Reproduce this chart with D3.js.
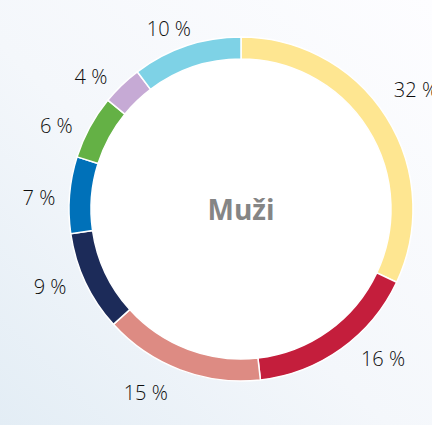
<!DOCTYPE html>
<html>
<head>
<meta charset="utf-8">
<script src="https://cdn.jsdelivr.net/npm/d3@7"></script>
<style>
  html, body { margin: 0; padding: 0; background: #fff; }
  svg { display: block; }
</style>
</head>
<body>
<div id="chart"></div>
<script>
// shares (labels show them rounded)
const categories = ['a', 'b', 'c', 'd', 'e', 'f', 'g', 'h'];
const shares = [32, 16.2, 15.1, 9.4, 7.2, 6.0, 3.8, 10.3];
const colors = ['#fee691', '#c41e3c', '#dd8b83', '#1c2b59', '#0071b9', '#64b145', '#c6aad5', '#7ed2e6'];
const centerLabel = 'Muži';

// small hand nudges for the labels, like the original layout (degrees, px)
const labelTurn = [-5.6, -3, 1, 1.3, -1.2, -2, -1.4, 3];
const labelPush = [4, 2, 8, 1, -4, -2, -2, -3];

const width = 432, height = 425;
const cx = 241, cy = 209;
const outerR = 172, innerR = 150, labelR = 190;

const svg = d3.select('#chart')
    .append('svg')
    .attr('width', width)
    .attr('height', height);

// soft bluish backdrop
const defs = svg.append('defs');
const grad = defs.append('linearGradient')
    .attr('id', 'bg')
    .attr('x1', '1').attr('y1', '0')
    .attr('x2', '0').attr('y2', '1');
grad.append('stop').attr('offset', '0%').attr('stop-color', '#fdfdff');
grad.append('stop').attr('offset', '55%').attr('stop-color', '#f4f7fb');
grad.append('stop').attr('offset', '100%').attr('stop-color', '#e3edf5');

svg.append('rect')
    .attr('width', width)
    .attr('height', height)
    .attr('fill', 'url(#bg)');

const g = svg.append('g')
    .attr('transform', `translate(${cx},${cy})`);

g.append('circle')
    .attr('r', innerR)
    .attr('fill', '#ffffff');

const pie = d3.pie().sort(null).value(d => d.value);
const arcs = pie(categories.map((c, i) => ({key: c, value: shares[i], color: colors[i]})));

const arc = d3.arc().innerRadius(innerR).outerRadius(outerR);

g.selectAll('path.slice')
    .data(arcs)
    .enter()
    .append('path')
    .attr('class', 'slice')
    .attr('d', arc)
    .attr('fill', d => d.data.color)
    .attr('stroke', '#ffffff')
    .attr('stroke-width', 1.5);

g.selectAll('text.pct')
    .data(arcs)
    .enter()
    .append('text')
    .attr('class', 'pct')
    .each(function (d, i) {
        const a = (d.startAngle + d.endAngle) / 2 + labelTurn[i] * Math.PI / 180;
        const r = labelR + labelPush[i];
        d3.select(this)
            .attr('x', r * Math.sin(a))
            .attr('y', -r * Math.cos(a))
            .attr('text-anchor', a < Math.PI ? 'start' : 'end');
    })
    .attr('dominant-baseline', 'central')
    .attr('font-family', '"Open Sans", "DejaVu Sans", sans-serif')
    .attr('font-weight', 300)
    .attr('font-size', '20px')
    .attr('fill', '#0d0d0d')
    .text(d => `${Math.round(d.data.value)} %`);

g.append('text')
    .attr('x', 0)
    .attr('y', 11)
    .attr('text-anchor', 'middle')
    .attr('font-family', '"Open Sans", "DejaVu Sans", sans-serif')
    .attr('font-weight', 700)
    .attr('font-size', '28px')
    .attr('fill', '#858585')
    .text(centerLabel);
</script>
</body>
</html>
